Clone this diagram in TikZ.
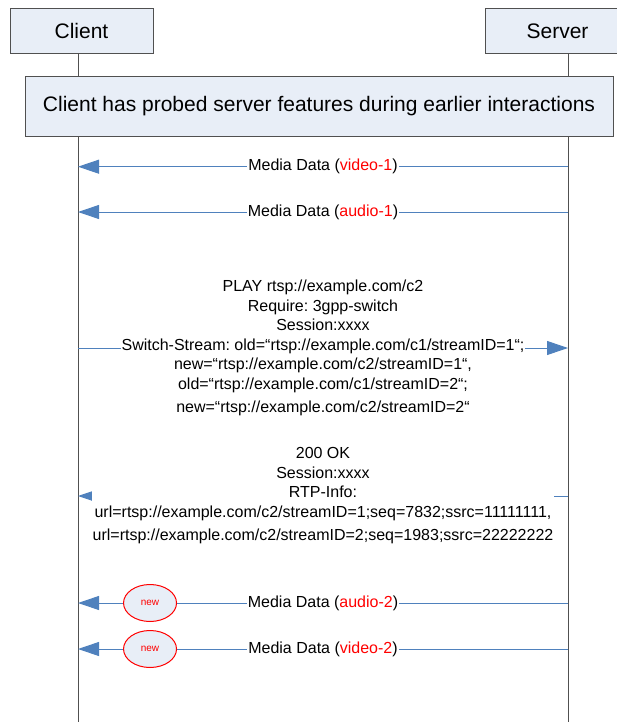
\documentclass[tikz,border=0pt]{standalone}
\usepackage{fontspec}
\setmainfont{Liberation Sans}
\usetikzlibrary{arrows.meta,shapes.geometric}
\definecolor{boxfill}{HTML}{E8EEF7}
\definecolor{msgblue}{HTML}{4F81BD}
\definecolor{linegray}{HTML}{505050}
\frenchspacing
\tikzset{
  actor/.style = 	{shape=rectangle, draw=linegray, fill=boxfill,
				minimum height=45pt, inner sep=0pt,
				font=\fontsize{21}{25}\selectfont},
  note/.style = 	{actor, minimum width=588pt, minimum height=60pt},
  life/.style = 	{draw=linegray, line width=1pt},
  msg/.style = 	{draw=msgblue, line width=1pt,
				-{Triangle[length=21pt,width=14pt]}},
  msgtext/.style = 	{fill=white, align=center, inner xsep=1pt, inner ysep=0pt,
				font=\fontsize{16}{19.5}\selectfont},
  newtag/.style = 	{ellipse, draw=red, fill=boxfill, text=red, inner sep=0pt,
				minimum width=53pt, minimum height=37pt,
				font=\fontsize{10}{12}\selectfont},
}

\begin{document}
\begin{tikzpicture}
	[
		x = 1pt,
		y = -1pt,
	]
	\useasboundingbox (0,0) rectangle (617,722);
	\clip (0,0) rectangle (617,722);
	\node [actor, minimum width=143pt] (client) at (81.5,30.8) {Client};
	\node [actor, minimum width=145pt] (server) at (557.5,30.8) {Server};
	\coordinate (cl) at (78,722);
	\coordinate (sl) at (568,722);
	\draw [life] (cl |- client.south) -- (cl);
	\draw [life] (sl |- server.south) -- (sl);
	\node [note] (probe) at (319,106) {Client has probed server features during earlier interactions};
	% message end points on the lifelines
	\coordinate (c1) at (78,166.7);  \coordinate (s1) at (568,166.7);
	\coordinate (c2) at (78,212);    \coordinate (s2) at (568,212);
	\coordinate (c3) at (78,348);    \coordinate (s3) at (568,348);
	\coordinate (c4) at (78,496);    \coordinate (s4) at (568,496);
	\coordinate (c5) at (78,603);    \coordinate (s5) at (568,603);
	\coordinate (c6) at (78,649);    \coordinate (s6) at (568,649);
	\draw [msg] (s1) -- node [msgtext] {Media Data (\textcolor{red}{video-1})} (c1);
	\draw [msg] (s2) -- node [msgtext] {Media Data (\textcolor{red}{audio-1})} (c2);
	\draw [msg] (c3) -- node [msgtext] {PLAY rtsp://example.com/c2\\
		Require: 3gpp-switch\\
		Session:xxxx\\
		Switch-Stream: old=“rtsp://example.com/c1/streamID=1“;\\
		new=“rtsp://example.com/c2/streamID=1“,\\
		old=“rtsp://example.com/c1/streamID=2“;\\[4pt]
		new=“rtsp://example.com/c2/streamID=2“} (s3);
	\draw [msg] (s4) -- node [msgtext] {200 OK\\
		Session:xxxx\\
		RTP-Info:\\
		url=rtsp://example.com/c2/streamID=1;seq=7832;ssrc=11111111,\\[4pt]
		url=rtsp://example.com/c2/streamID=2;seq=1983;ssrc=22222222} (c4);
	\draw [msg] (s5) -- node [msgtext] {Media Data (\textcolor{red}{audio-2})}
		node [newtag, pos=0.853] (new1) {new} (c5);
	\draw [msg] (s6) -- node [msgtext] {Media Data (\textcolor{red}{video-2})}
		node [newtag, pos=0.853] (new2) {new} (c6);
\end{tikzpicture}
\end{document}
